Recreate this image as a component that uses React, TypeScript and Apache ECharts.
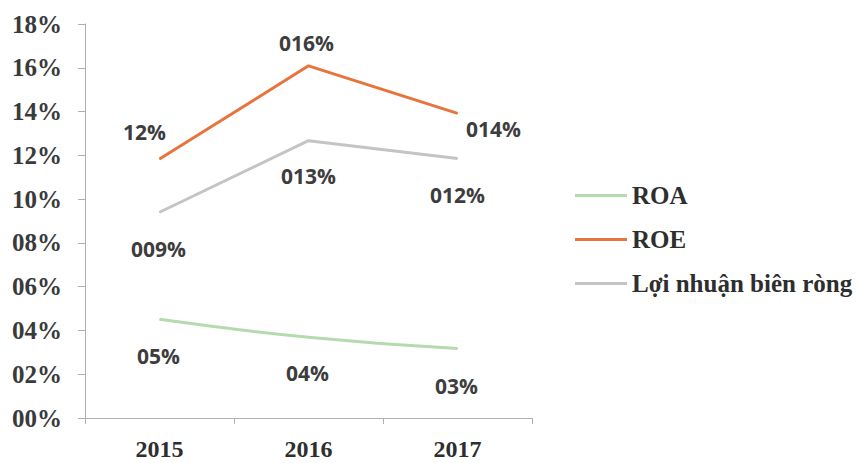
import React, { useEffect, useRef } from "react";
import * as echarts from "echarts";

const years = ["2015", "2016", "2017"];
const roa = [4.51, 3.69, 3.17];
const roe = [11.83, 16.09, 13.92];
const margin = [9.4, 12.67, 11.86];
const roaLabels = ["05%", "04%", "03%"];
const roeLabels = ["12%", "016%", "014%"];
const marginLabels = ["009%", "013%", "012%"];
const seriesNames = ["ROA", "ROE", "Lợi nhuận biên ròng"];

const serif = "'Liberation Serif', 'Times New Roman', serif";
const sans = "'Open Sans', 'Liberation Sans', sans-serif";

export default function App() {
  const ref = useRef<HTMLDivElement>(null);
  useEffect(() => {
    if (!ref.current) return;
    const chart = echarts.init(ref.current, undefined, { renderer: "svg" });
    const labelStyle = {
      show: true,
      position: "inside" as const,
      fontFamily: sans,
      fontWeight: "bold" as const,
      fontSize: 21,
      color: "#3d3d3d",
    };
    const mk = (
      name: string,
      vals: number[],
      labels: string[],
      color: string,
      offsets: number[][],
      smooth: boolean
    ) => ({
      name,
      type: "line",
      smooth,
      symbol: "circle",
      symbolSize: 1,
      itemStyle: { color },
      lineStyle: { color, width: 3 },
      data: vals.map((v, i) => ({
        value: v,
        label: { ...labelStyle, offset: offsets[i], formatter: () => labels[i] },
      })),
      z: 2,
    });
    chart.setOption({
      animation: false,
      backgroundColor: "#ffffff",
      grid: { left: 85, right: 326, top: 24, bottom: 45 },
      legend: {
        orient: "vertical",
        left: 570,
        top: 178,
        data: seriesNames,
        icon: "rect",
        itemWidth: 52,
        itemHeight: 3,
        itemGap: 19,
        textStyle: {
          fontFamily: serif,
          fontWeight: "bold",
          fontSize: 25,
          lineHeight: 24,
          color: "#2e2e2e",
          padding: [0, 0, 0, 0],
        },
        selectedMode: false,
      },
      xAxis: {
        type: "category",
        data: years,
        boundaryGap: true,
        axisLine: { lineStyle: { color: "#b0b0b0", width: 1 } },
        axisTick: { show: true, length: 6, lineStyle: { color: "#b0b0b0" } },
        axisLabel: {
          margin: 19,
          fontFamily: serif,
          fontWeight: "bold",
          fontSize: 24,
          color: "#2e2e2e",
        },
      },
      yAxis: {
        type: "value",
        min: 0,
        max: 18,
        interval: 2,
        splitLine: { show: false },
        axisLine: { show: true, lineStyle: { color: "#b0b0b0", width: 1 } },
        axisTick: { show: true, length: 7, lineStyle: { color: "#b0b0b0" } },
        axisLabel: {
          margin: 23,
          fontFamily: serif,
          fontWeight: "bold",
          fontSize: 25,
          color: "#3a3a3a",
          formatter: (v: number) => String(Math.round(v)).padStart(2, "0") + "%",
        },
      },
      series: [
        mk(seriesNames[0], roa, roaLabels, "#b4dbae", [[-1, 37], [-1, 36], [-1, 37]], true),
        mk(seriesNames[1], roe, roeLabels, "#e8743b", [[-15, -27], [-2, -23], [36, 16]], false),
        mk(seriesNames[2], margin, marginLabels, "#c4c4c4", [[-1, 37], [0, 35], [0, 37]], false),
      ],
    });
    return () => chart.dispose();
  }, []);
  return (
    <div
      ref={ref}
      style={{ position: "fixed", left: 0, top: 0, width: 858, height: 463, background: "#fff" }}
    />
  );
}
